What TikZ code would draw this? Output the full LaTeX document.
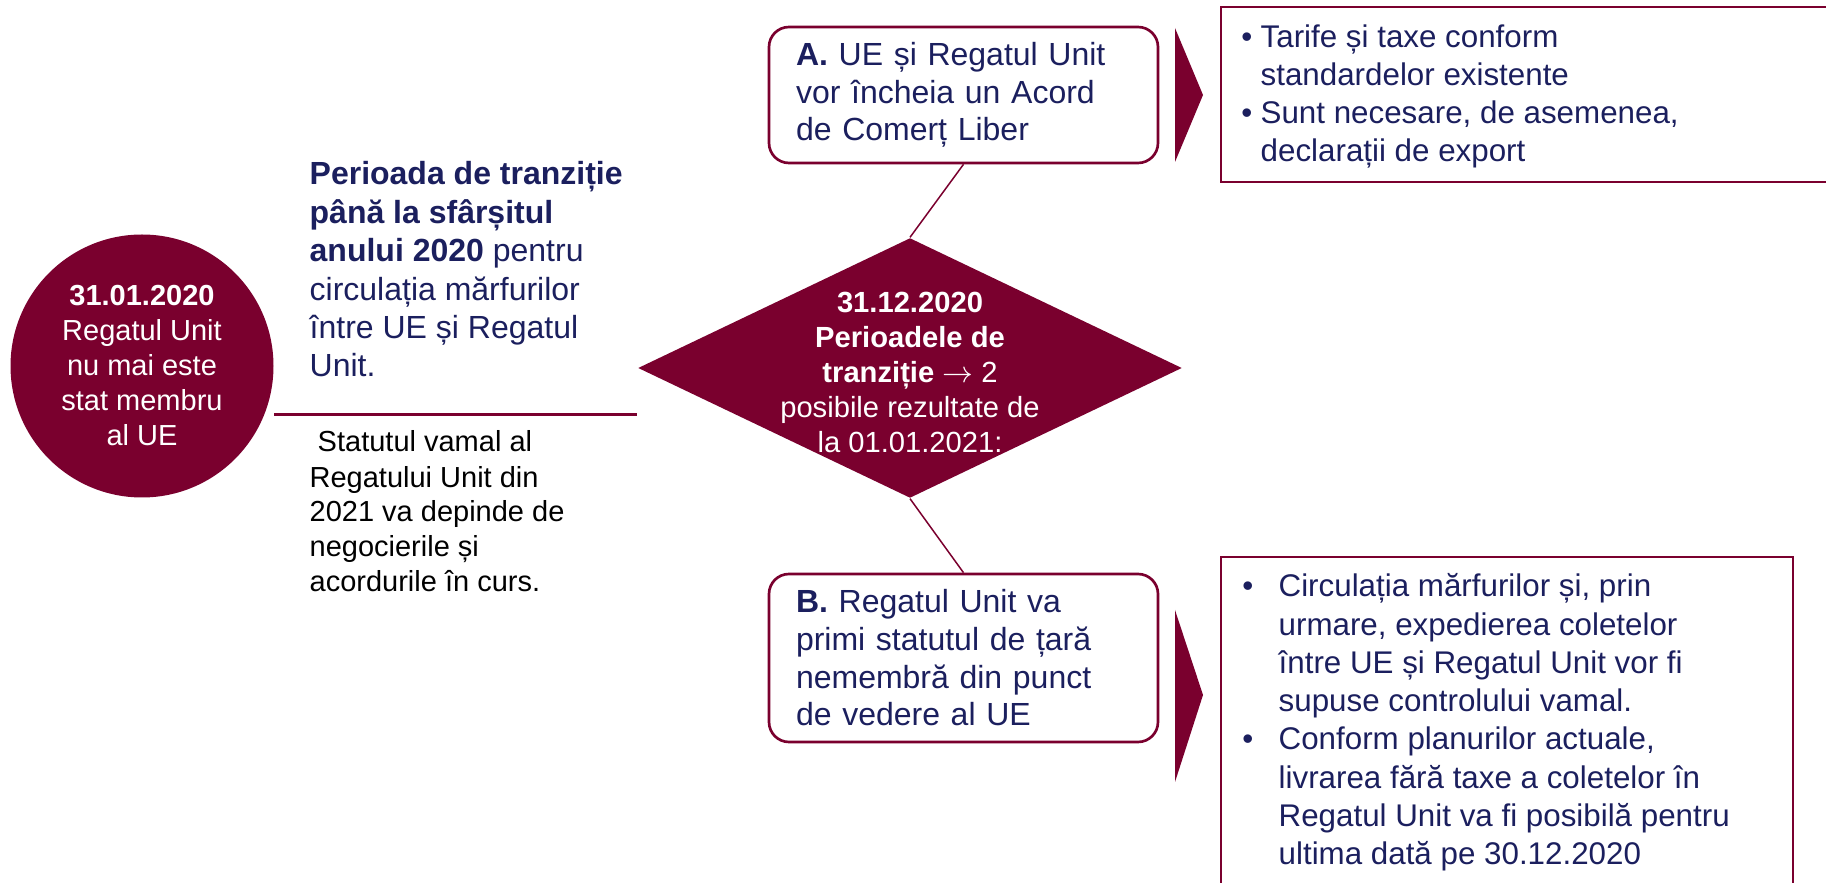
\documentclass[tikz,border=0pt]{standalone}
\usepackage{fontspec}
\setmainfont{Liberation Sans}
\usetikzlibrary{shapes.geometric}

\definecolor{bordo}{RGB}{122,0,46}
\definecolor{navy}{RGB}{27,31,94}

\tikzset{
  dot/.style={circle, fill=bordo, text=white, minimum size=78.9pt, inner sep=0pt,
    align=center, font=\fontsize{8.7}{10.5}\selectfont},
  gate/.style={diamond, fill=bordo, minimum width=163.2pt, minimum height=78pt, inner sep=0pt},
  option/.style={draw=bordo, line width=0.8pt, rounded corners=6pt, text=navy, align=left,
    text width=100.5pt, inner xsep=8.1pt, font=\fontsize{9.6}{11.3}\selectfont},
  note/.style={inner sep=0pt, anchor=base west, align=left},
  frame/.style={draw=bordo, line width=0.8pt},
  link/.style={draw=bordo, line width=0.45pt},
}

\begin{document}
\begin{tikzpicture}[x=0.3pt, y=-0.3pt]

  \path[use as bounding box] (0,0) rectangle (1826,883);
  \clip (0,0) rectangle (1826,883);

  \node (C) [dot] at (142,366) {\textbf{31.01.2020}\\Regatul Unit\\nu mai este\\stat membru\\al UE};

  % notes left of the diamond, anchored at their last line
  \node (T) [note, text=navy, font=\fontsize{9.6}{11.52}\selectfont] at (309,377)
    {\textbf{Perioada de tranziție}\\\textbf{până la sfârșitul}\\\textbf{anului 2020} pentru\\circulația mărfurilor\\între UE și Regatul\\Unit.};
  \node (L) [note, font=\fontsize{8.7}{10.5}\selectfont] at (309,592)
    {\ Statutul vamal al\\Regatului Unit din\\2021 va depinde de\\negocierile și\\acordurile în curs.};

  \node (D) [gate] at (910,368) {};
  \node (Dt) [text=white, align=center, inner sep=0pt, font=\fontsize{8.75}{10.5}\selectfont]
    at ([yshift=-1.2pt]D.center)
    {\textbf{31.12.2020}\\\textbf{Perioadele de}\\\textbf{tranziție} $\rightarrow$ 2\\posibile rezultate de\\la 01.01.2021:};

  \draw[bordo, line width=0.9pt] ([yshift=-14.7pt]C.east) -- ([yshift=-14.7pt]C.east -| D.west);

  \node (A) [option, minimum height=40.8pt] at (963.5,95)
    {\textbf{A.} UE și Regatul Unit\\vor încheia un Acord\\de Comerț Liber};
  \node (B) [option, minimum height=50.4pt] at (963.5,658)
    {\textbf{B.} Regatul Unit va\\primi statutul de țară\\nemembră din punct\\de vedere al UE};

  \draw[link] (A.south) -- (D.north);
  \draw[link] (D.south) -- (B.north);

  % arrows towards the outcomes
  \fill[bordo] (1175,28) -- (1203,95) -- (1175,162) -- cycle;
  \fill[bordo] (1175,610) -- (1203,695) -- (1175,782) -- cycle;

  \draw[frame] (1221,7) rectangle (1840,182);
  \node (R1) [note, text=navy, font=\fontsize{9.4}{11.4}\selectfont] at (1260,162)
    {\llap{•\hspace{2.5pt}}Tarife și taxe conform\\standardelor existente\\
     \llap{•\hspace{2.5pt}}Sunt necesare, de asemenea,\\declarații de export};

  \draw[frame] (1221,557) rectangle (1793,900);
  \node (R2) [note, text=navy, font=\fontsize{9.4}{11.5}\selectfont] at (1278,865)
    {\llap{•\hspace{7.6pt}}Circulația mărfurilor și, prin\\urmare, expedierea coletelor\\între UE și Regatul Unit vor fi\\supuse controlului vamal.\\
     \llap{•\hspace{7.6pt}}Conform planurilor actuale,\\livrarea fără taxe a coletelor în\\Regatul Unit va fi posibilă pentru\\ultima dată pe 30.12.2020};

\end{tikzpicture}
\end{document}
